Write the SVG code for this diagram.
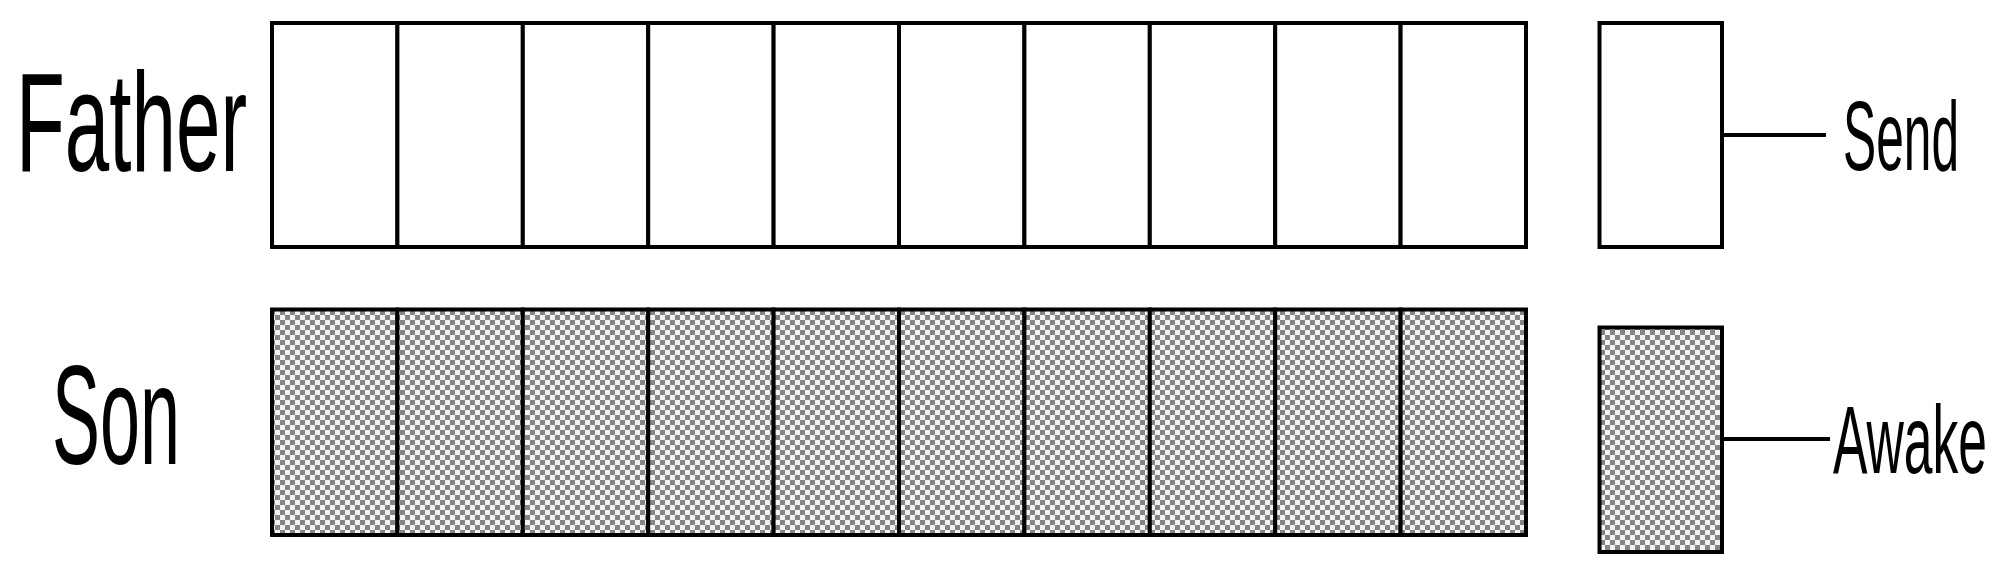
<svg xmlns="http://www.w3.org/2000/svg" width="2013" height="568" viewBox="0 0 2013 568">
<defs>
<pattern id="chk" patternUnits="userSpaceOnUse" width="10" height="10">
<rect width="10" height="10" fill="#f2f2f2"/>
<rect width="5" height="5" fill="#858585"/>
<rect x="5" y="5" width="5" height="5" fill="#858585"/>
</pattern>
<style>
.cell{stroke:#000;stroke-width:4}
.white{fill:#fff}
.grey{fill:url(#chk)}
.lbl{font-family:"Liberation Sans",Arial,sans-serif;fill:#000}
.conn{stroke:#000;stroke-width:4;fill:none}
</style>
</defs>
<rect width="2013" height="568" fill="#fff"/>
<g id="father-label"><text class="lbl" transform="translate(16,171) scale(0.567,1)" font-size="141">Father</text></g>
<g id="son-label"><text class="lbl" transform="translate(52,464) scale(0.51,1)" font-size="141">Son</text></g>
<g id="father-row">
<rect class="cell white" x="272" y="23" width="125.4" height="224"/>
<rect class="cell white" x="397.4" y="23" width="125.4" height="224"/>
<rect class="cell white" x="522.8" y="23" width="125.4" height="224"/>
<rect class="cell white" x="648.2" y="23" width="125.4" height="224"/>
<rect class="cell white" x="773.6" y="23" width="125.4" height="224"/>
<rect class="cell white" x="899" y="23" width="125.4" height="224"/>
<rect class="cell white" x="1024.4" y="23" width="125.4" height="224"/>
<rect class="cell white" x="1149.8" y="23" width="125.4" height="224"/>
<rect class="cell white" x="1275.2" y="23" width="125.4" height="224"/>
<rect class="cell white" x="1400.6" y="23" width="125.4" height="224"/>
</g>
<g id="son-row">
<rect class="cell grey" x="272" y="309.5" width="125.4" height="225.5"/>
<rect class="cell grey" x="397.4" y="309.5" width="125.4" height="225.5"/>
<rect class="cell grey" x="522.8" y="309.5" width="125.4" height="225.5"/>
<rect class="cell grey" x="648.2" y="309.5" width="125.4" height="225.5"/>
<rect class="cell grey" x="773.6" y="309.5" width="125.4" height="225.5"/>
<rect class="cell grey" x="899" y="309.5" width="125.4" height="225.5"/>
<rect class="cell grey" x="1024.4" y="309.5" width="125.4" height="225.5"/>
<rect class="cell grey" x="1149.8" y="309.5" width="125.4" height="225.5"/>
<rect class="cell grey" x="1275.2" y="309.5" width="125.4" height="225.5"/>
<rect class="cell grey" x="1400.6" y="309.5" width="125.4" height="225.5"/>
</g>
<g id="legend-send"><rect class="cell white" x="1599.5" y="23" width="122.5" height="224"/></g>
<g id="legend-awake"><rect class="cell grey" x="1599.5" y="327.5" width="122.5" height="224.5"/></g>
<g id="connectors">
<line class="conn" x1="1722" y1="135" x2="1826" y2="135"/>
<line class="conn" x1="1722" y1="439" x2="1830" y2="439"/>
</g>
<g id="send-label"><text class="lbl" transform="translate(1843,170) scale(0.507,1)" font-size="98">Send</text></g>
<g id="awake-label"><text class="lbl" transform="translate(1833,473) scale(0.538,1)" font-size="96">Awake</text></g>
</svg>
